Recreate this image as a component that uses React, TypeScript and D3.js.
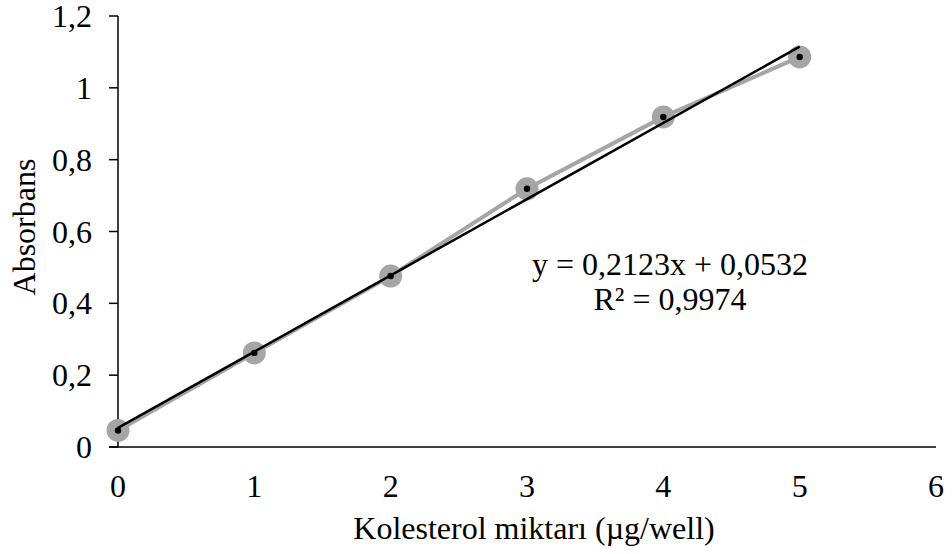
import * as d3 from "d3";

// Kolesterol standart eğrisi
const amounts = [0, 1, 2, 3, 4, 5];
const absorbance = [0.046, 0.262, 0.476, 0.719, 0.919, 1.086];
const yTicks = [0, 0.2, 0.4, 0.6, 0.8, 1, 1.2];
const xTicks = [0, 1, 2, 3, 4, 5, 6];
const slope = 0.2123;
const intercept = 0.0532;
const eqLabel = "y = 0,2123x + 0,0532";
const r2Label = "R² = 0,9974";

const width = 952;
const height = 554;
const margin = { top: 16, right: 16, bottom: 107, left: 118 };
const font = "'Liberation Serif', 'Times New Roman', serif";
const fs = 32;

const fmt = (v: number) => String(+v.toFixed(1)).replace(".", ",");

export default function App() {
  const x = d3.scaleLinear().domain([0, 6]).range([margin.left, width - margin.right]);
  const y = d3.scaleLinear().domain([0, 1.2]).range([height - margin.bottom, margin.top]);

  const pts = amounts.map((a, i) => [a, absorbance[i]] as [number, number]);
  const line = d3.line<[number, number]>().x((d) => x(d[0])).y((d) => y(d[1]));
  const trend: [number, number][] = [
    [amounts[0], intercept + slope * amounts[0]],
    [amounts[amounts.length - 1], intercept + slope * amounts[amounts.length - 1]],
  ];

  const y0 = y(0);
  return (
    <svg width={width} height={height} style={{ position: "absolute", left: 0, top: 0, background: "#fff" }} fontFamily={font}>
      {/* axes */}
      <line x1={x(0)} x2={x(0)} y1={y(1.2)} y2={y0} stroke="#000" strokeWidth={1.5} />
      <line x1={x(0) - 9} x2={x(6)} y1={y0} y2={y0} stroke="#000" strokeWidth={1.5} />
      {yTicks.map((t) => (
        <g key={t}>
          <line x1={x(0) - 9} x2={x(0)} y1={y(t)} y2={y(t)} stroke="#000" strokeWidth={1.5} />
          <text x={x(0) - 26} y={y(t) + 11} textAnchor="end" fontSize={fs}>
            {fmt(t)}
          </text>
        </g>
      ))}
      {xTicks.map((t) => (
        <text key={t} x={x(t)} y={y0 + 50} textAnchor="middle" fontSize={fs}>
          {t}
        </text>
      ))}
      <text x={534} y={539} textAnchor="middle" fontSize={fs}>
        Kolesterol miktarı (µg/well)
      </text>
      <text transform={`translate(35,227) rotate(-90)`} textAnchor="middle" fontSize={fs}>
        Absorbans
      </text>

      {/* data series */}
      <path d={line(pts) || ""} fill="none" stroke="#a5a5a5" strokeWidth={4} />
      {pts.map((d, i) => (
        <circle key={i} cx={x(d[0])} cy={y(d[1])} r={11.5} fill="#a5a5a5" />
      ))}
      <path d={line(trend) || ""} fill="none" stroke="#000" strokeWidth={2.5} />
      {pts.map((d, i) => (
        <circle key={"c" + i} cx={x(d[0])} cy={y(d[1])} r={3.2} fill="#000" />
      ))}

      <text x={670} y={275} textAnchor="middle" fontSize={fs}>{eqLabel}</text>
      <text x={670} y={310} textAnchor="middle" fontSize={fs}>{r2Label}</text>
    </svg>
  );
}
